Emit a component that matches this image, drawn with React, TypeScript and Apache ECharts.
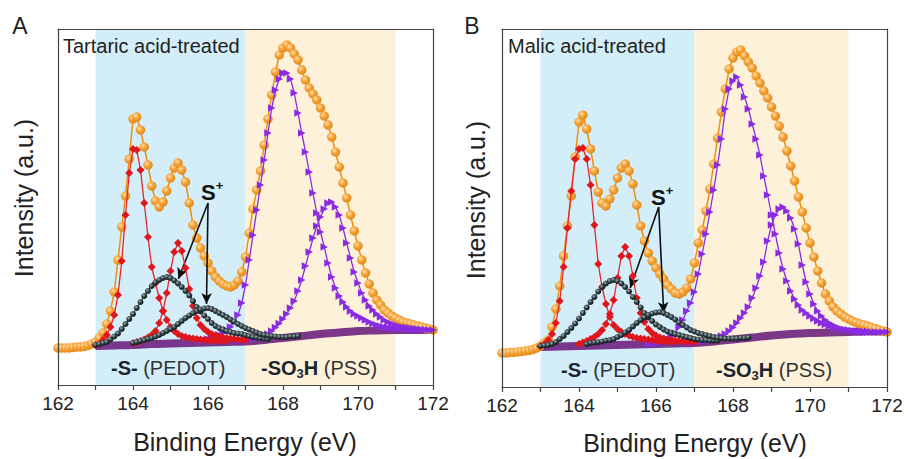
import React, { useEffect, useRef } from 'react';
import * as echarts from 'echarts';

const F = '"Liberation Sans", Arial, Helvetica, sans-serif';

// ---------- axis / regions ----------
const X_MIN = 162;
const X_MAX = 172;
const TICK_LABELS = [162, 164, 166, 168, 170, 172];
const REGION_PEDOT = [163, 167];
const REGION_PSS = [167, 171];
const PANEL_TITLES = ['Tartaric acid-treated', 'Malic acid-treated'];
const PANEL_LETTERS = ['A', 'B'];

// sample grid step (eV) of the measured / fitted curves
const STEP = 0.1;

// ---------- Panel A (tartaric acid) : intensity values, a.u. ----------
// envelope, 162.0 .. 172.0
const A_TOTAL = [37, 37, 37, 37, 37.5, 38, 38, 38.5, 39.5, 41,
  43, 47, 52, 61, 74, 93, 125, 158, 189, 226,
  266, 268, 255, 238, 220, 199, 184, 178, 183, 194,
  207, 217, 222, 215, 203, 182, 160, 147, 137, 129,
  122, 114, 108, 104, 101, 99, 98, 100, 104, 113,
  128, 152, 176, 195, 214, 240, 266, 290, 313, 330,
  337, 340, 337, 331, 325, 315, 305, 297, 291, 285,
  277, 269, 260, 248, 233, 218, 202, 187, 170, 154,
  139, 125, 112, 101, 92, 85, 80, 75, 72, 69,
  67, 65, 63, 62, 61, 60, 59, 58, 57, 56,
  55];
// -S- 2p3/2 from 163.0
const A_S1 = [40, 41, 45, 50, 58, 70, 90, 124, 170, 212,
  236, 235, 215, 182, 148, 118, 102, 87, 74, 65,
  58, 54, 51, 49, 48, 47, 46.5, 46, 45.5, 45,
  45, 44.5, 44.5, 44.5, 44.5, 44.5];
// -S- 2p1/2 from 164.0
const A_S2 = [42, 43, 44, 45.5, 47.5, 50, 54, 62, 74, 92,
  114, 133, 142, 134, 117, 96, 79, 67, 60, 56,
  53, 51, 49.5, 48.5, 47.5, 47, 46.5, 46, 45.5, 45,
  45];
// S+ 2p3/2 from 163.0
const A_SP1 = [40, 41, 42, 43, 45.5, 48.5, 51.5, 56, 61, 66,
  71, 77, 83, 89, 94, 99, 102.5, 105, 107, 108,
  107, 104.5, 101.5, 98, 94, 89.5, 84, 78, 73.5, 69.5,
  66, 62, 59, 57, 55.5, 54, 53, 52, 51.5, 51,
  50, 49, 48, 47.5, 47, 46.5, 46];
// S+ 2p1/2 from 164.0
const A_SP2 = [42, 43, 44, 45, 46, 47, 48.5, 50, 52, 54,
  56, 58, 61, 64, 67, 69.5, 72, 74, 75.5, 76.5,
  77, 76, 74, 72, 70, 68, 65.5, 63.5, 61, 59,
  57, 55.5, 54, 52.5, 51, 50, 49.5, 49, 48.5, 48,
  48, 48, 48.5, 48.5, 49];
// SO3H 2p3/2 from 165.8
const A_SO1 = [44, 45,
  46, 47, 48.5, 50, 52, 55, 58, 63, 70, 82,
  100, 125, 150, 175, 200, 225, 252, 277, 295, 306,
  312, 312, 306, 292, 272, 252, 233, 213, 192, 172,
  153, 138, 122, 108, 97, 89, 83, 78, 74, 71,
  69, 67, 65, 63, 61.5, 60, 59, 58, 57.5, 57,
  56.5, 56, 56, 55.5, 55.5, 55];
// SO3H 2p1/2 from 166.8
const A_SO2 = [44, 44.5,
  45, 45.5, 46, 47, 48, 49.5, 51, 54, 57.5, 61.5,
  66, 71, 77, 84, 94, 105, 119, 133, 147, 159,
  168, 176, 182, 183, 178, 170, 157, 142, 127, 113,
  102, 92, 85, 79, 75, 71, 68, 65, 63, 61.5,
  60, 59, 58, 57.5, 57, 56.5, 56, 55.5, 55.5, 55,
  55];

// ---------- Panel B (malic acid) ----------
const B_TOTAL = [34, 34, 34.5, 34.5, 35, 35.5, 36, 36.5, 37.5, 39,
  41, 44, 47, 60, 78, 101, 131, 161, 191, 230,
  265, 272, 258, 238, 216, 195, 184, 181, 188, 197,
  209, 219, 223, 216, 203, 182, 161, 146, 134, 126,
  119, 113, 108, 102, 98, 94, 93, 95, 99, 108,
  124, 144, 157, 176, 198, 223, 249, 275, 298, 318,
  329, 335, 337, 331, 325, 319, 311, 304, 296, 289,
  280, 271, 261, 250, 236, 221, 206, 190, 175, 159,
  144, 130, 116, 104, 93, 86, 80, 76, 73, 70,
  68, 66, 64.5, 63, 62, 61, 59.5, 58.5, 57, 56,
  55];
const B_S1 = [41, 43, 47, 53, 64, 86, 120, 159, 196, 228,
  238, 239, 228, 202, 162, 123, 100, 83, 70, 62,
  58, 55, 53, 51.5, 50, 49, 48.5, 48, 47.5, 47,
  46.5, 46, 46, 45.5, 45.5, 45.5];
const B_S2 = [43, 44.5, 46, 48, 50, 53, 57, 63, 73, 87,
  109, 131, 140, 131, 111, 89, 74, 65, 58, 54,
  51.5, 49.5, 48.5, 47.5, 47, 46.5, 46, 45.5, 45.5, 45,
  45];
const B_SP1 = [41, 41.5, 42, 43, 45, 48, 51, 55, 59, 63.5,
  68.5, 74, 79.5, 85, 90, 95.5, 100, 103.5, 106, 107,
  106, 103.5, 100, 95.5, 90, 85, 79.5, 74, 69.5, 66,
  62.5, 60, 57.5, 55.5, 54, 53, 52, 51, 50, 49,
  48, 47.5, 47, 47, 46.5, 46.5, 46.5];
// from 164.2
const B_SP2 = [43, 44, 44.5, 45, 45.5, 46.5, 47, 48,
  50, 52, 54.5, 57, 60.5, 64, 67, 69.5, 72, 73.5,
  74.5, 75, 74, 72, 70, 67.5, 64.5, 62, 59.5, 57,
  55.5, 54, 53, 52, 51, 50, 49.5, 49, 48.5, 48.5,
  48.5, 48.5, 49, 49, 49.5];
const B_SO1 = [43, 43.5,
  44, 44.5, 46, 48, 50.5, 54, 60, 67, 76, 84,
  95, 113, 133, 153, 175, 197, 222, 248, 278, 298,
  306, 310, 302, 290, 278, 263, 248, 232, 211, 192,
  172, 153, 134, 118, 106, 96, 88, 82, 77, 74,
  71, 68.5, 66, 64, 62.5, 61, 60, 59, 58, 57.5,
  57, 56.5, 56, 56, 55.5, 55.5];
const B_SO2 = [44, 44.5,
  45, 45.5, 46, 46.5, 47.5, 48.5, 49.5, 51, 53, 56,
  59.5, 64, 69, 74, 80, 89, 99, 111, 125, 146,
  162, 172, 178, 180, 176, 169, 158, 143, 122, 105,
  93, 83, 76, 71, 67, 64, 62, 60, 58.5, 57.5,
  57, 56, 55.5, 55.5, 55, 55, 55, 55, 55, 55,
  55];

// Shirley-type background
const BASE_E = [163, 163.5, 164, 164.5, 165, 165.5, 166, 166.5, 167, 167.5, 168, 168.5, 169, 169.5, 170, 170.5, 171, 171.5, 172];
const A_BASE = [39, 39.5, 40, 41, 41.5, 42, 42.5, 43, 43.5, 45, 47, 49, 51, 52.5, 54, 54.5, 55, 55, 55.5];
const B_BASE = [40, 40.5, 41, 41.5, 42, 42.5, 43, 43.5, 44, 45.5, 47.5, 49.5, 51.5, 53, 54, 54.5, 55, 55.5, 55.5];

// arrows "S+" : [from(E, I), to(E, I)]
const A_ARROWS = [[[166.0, 182], [165.21, 106]], [[166.0, 182], [165.96, 81]]];
const B_ARROWS = [[[166.07, 180], [165.33, 99]], [[166.07, 180], [166.2, 74]]];

const pts = (start: number, vals: number[]) =>
  vals.map((v, i) => [Math.round((start + i * STEP) * 100) / 100, v]);

const panels = [
  {
    grid: { left: 58, top: 29, width: 375, height: 356 }, yMax: 356,
    total: pts(162, A_TOTAL), s1: pts(163, A_S1), s2: pts(164, A_S2),
    sp1: pts(163, A_SP1), sp2: pts(164, A_SP2), so1: pts(165.8, A_SO1), so2: pts(166.8, A_SO2),
    base: BASE_E.map((e, i) => [e, A_BASE[i]]), arrows: A_ARROWS,
  },
  {
    grid: { left: 502, top: 29, width: 385, height: 358 }, yMax: 358,
    total: pts(162, B_TOTAL), s1: pts(163, B_S1), s2: pts(164, B_S2),
    sp1: pts(163, B_SP1), sp2: pts(164.2, B_SP2), so1: pts(165.8, B_SO1), so2: pts(166.8, B_SO2),
    base: BASE_E.map((e, i) => [e, B_BASE[i]]), arrows: B_ARROWS,
  },
];

function buildOption() {
  const orangeBall = new echarts.graphic.RadialGradient(0.38, 0.35, 0.7, [
    { offset: 0, color: '#ffe2a6' },
    { offset: 0.45, color: '#f5a23a' },
    { offset: 1, color: '#dc860f' },
  ]);
  const blackBall = new echarts.graphic.RadialGradient(0.38, 0.35, 0.7, [
    { offset: 0, color: '#9fb0b5' },
    { offset: 0.5, color: '#2c3b40' },
    { offset: 1, color: '#0b1114' },
  ]);

  const grids: any[] = [];
  const xAxes: any[] = [];
  const yAxes: any[] = [];
  const series: any[] = [];

  panels.forEach((p, k) => {
    grids.push({ ...p.grid, containLabel: false });
    const common = { type: 'value', min: X_MIN, max: X_MAX, interval: 1, gridIndex: k, z: 10, splitLine: { show: false } };
    xAxes.push({
      ...common, position: 'bottom',
      axisLine: { show: true, onZero: false, lineStyle: { color: '#444', width: 1.2 } },
      axisTick: { show: true, inside: false, length: 5, lineStyle: { color: '#444', width: 1.2 } },
      axisLabel: {
        show: true, margin: 9, fontSize: 19, fontFamily: F, color: '#222',
        formatter: (v: number) => (TICK_LABELS.includes(v) ? String(v) : ''),
      },
    });
    xAxes.push({
      ...common, position: 'top',
      axisLine: { show: true, onZero: false, lineStyle: { color: '#444', width: 1.2 } },
      axisTick: { show: false }, axisLabel: { show: false },
    });
    const yc = { type: 'value', min: 0, max: p.yMax, gridIndex: k, z: 10, splitLine: { show: false }, axisTick: { show: false }, axisLabel: { show: false } };
    yAxes.push({ ...yc, position: 'left', axisLine: { show: true, onZero: false, lineStyle: { color: '#444', width: 1.2 } } });
    yAxes.push({ ...yc, position: 'right', axisLine: { show: true, onZero: false, lineStyle: { color: '#444', width: 1.2 } } });

    const xi = k * 2;
    const yi = k * 2;
    const base = { type: 'line', xAxisIndex: xi, yAxisIndex: yi, animation: false, showAllSymbol: true, silent: true };

    // shaded regions
    series.push({
      ...base, name: 'regions' + k, data: [], z: 1,
      markArea: {
        silent: true,
        data: [
          [{ xAxis: REGION_PEDOT[0], itemStyle: { color: '#d3eef9' } }, { xAxis: REGION_PEDOT[1] }],
          [{ xAxis: REGION_PSS[0], itemStyle: { color: '#fdf2d9' } }, { xAxis: REGION_PSS[1] }],
        ],
      },
    });
    // background
    series.push({
      ...base, name: 'Background', data: p.base, z: 2, showSymbol: false, smooth: 0.3,
      lineStyle: { color: '#6b1d7c', width: 8, opacity: 0.88 },
    });
    // envelope
    series.push({
      ...base, name: 'Envelope', data: p.total, z: 3, symbol: 'circle', symbolSize: 9.5,
      itemStyle: { color: orangeBall }, lineStyle: { color: '#f08c10', width: 1.5 },
    });
    // PSS components
    [p.so1, p.so2].forEach((d, j) => {
      series.push({
        ...base, name: 'SO3H ' + j, data: d, z: 4, symbol: 'triangle', symbolSize: 7.5, symbolRotate: -90,
        itemStyle: { color: '#8a2be2' }, lineStyle: { color: '#8a2be2', width: 1.3 },
      });
    });
    // -S- components
    [p.s1, p.s2].forEach((d, j) => {
      series.push({
        ...base, name: 'S ' + j, data: d, z: 5, symbol: 'diamond', symbolSize: 8,
        itemStyle: { color: '#e0161d' }, lineStyle: { color: '#e6262b', width: 1.3 },
      });
    });
    // S+ components
    [p.sp1, p.sp2].forEach((d, j) => {
      series.push({
        ...base, name: 'S+ ' + j, data: d, z: 6, symbol: 'circle', symbolSize: 6,
        itemStyle: { color: blackBall }, lineStyle: { color: '#111', width: 1 },
        markLine: j === 0 ? {
          silent: true, animation: false, symbol: ['none', 'arrow'], symbolSize: [8, 11],
          label: { show: false },
          lineStyle: { color: '#111', width: 1.6, type: 'solid' },
          data: p.arrows.map((a) => [{ coord: a[0] }, { coord: a[1] }]),
        } : undefined,
      });
    });
  });

  const txt = (x: number, y: number, text: string, size: number, extra: any = {}) => ({
    type: 'text', x, y, z: 100, silent: true,
    style: {
      text, font: `${size}px ${F}`, fontSize: size, fontFamily: F, fill: '#222',
      align: 'left', verticalAlign: 'middle', textAlign: 'left', textVerticalAlign: 'middle', ...extra,
    },
  });
  const center = { align: 'center', textAlign: 'center' };

  const richLabel = (x: number, y: number, text: string, rich: any) => ({
    type: 'text', x, y, z: 100, silent: true,
    style: {
      text, rich, fontSize: 20, fontFamily: F, fill: '#333',
      align: 'left', verticalAlign: 'middle', textAlign: 'left', textVerticalAlign: 'middle',
    },
  });
  const pedotRich = {
    b: { fontSize: 20, fontWeight: 'bold', fontFamily: F, fill: '#1b2530', color: '#1b2530', lineHeight: 24, verticalAlign: 'middle' },
    n: { fontSize: 20, fontFamily: F, fill: '#333', color: '#333', lineHeight: 24, verticalAlign: 'middle' },
    s: { fontSize: 13, fontWeight: 'bold', fontFamily: F, fill: '#1b2530', color: '#1b2530', verticalAlign: 'bottom' },
  };
  const splusRich = {
    s: { fontSize: 22, fontWeight: 'bold', fontFamily: F, fill: '#111', color: '#111', lineHeight: 26, verticalAlign: 'middle' },
    p: { fontSize: 13, fontWeight: 'bold', fontFamily: F, fill: '#111', color: '#111', verticalAlign: 'top' },
  };

  const graphic: any[] = [
    txt(20, 26, PANEL_LETTERS[0], 23, center),
    txt(472, 26, PANEL_LETTERS[1], 23, center),
    txt(63, 46, PANEL_TITLES[0], 20),
    txt(508, 46, PANEL_TITLES[1], 20),
    { ...txt(24, 198, 'Intensity (a.u.)', 25, center), rotation: Math.PI / 2 },
    { ...txt(476, 200, 'Intensity (a.u.)', 25, center), rotation: Math.PI / 2 },
    txt(245, 442, 'Binding Energy (eV)', 25, center),
    txt(695, 443, 'Binding Energy (eV)', 25, center),
    richLabel(111, 368, '{b|-S-} {n|(PEDOT)}', pedotRich),
    richLabel(561, 370, '{b|-S-} {n|(PEDOT)}', pedotRich),
    richLabel(261, 368, '{b|-SO}{s|3}{b|H} {n|(PSS)}', pedotRich),
    richLabel(716, 370, '{b|-SO}{s|3}{b|H} {n|(PSS)}', pedotRich),
    richLabel(201, 192, '{s|S}{p|+}', splusRich),
    richLabel(651, 197, '{s|S}{p|+}', splusRich),
  ];

  return {
    animation: false,
    backgroundColor: '#ffffff',
    grid: grids,
    xAxis: xAxes,
    yAxis: yAxes,
    series,
    graphic,
  };
}

export default function App() {
  const ref = useRef<HTMLDivElement>(null);
  useEffect(() => {
    if (!ref.current) return;
    const chart = echarts.init(ref.current, null, { renderer: 'svg' });
    chart.setOption(buildOption() as any);
    return () => chart.dispose();
  }, []);
  return (
    <div
      ref={ref}
      style={{ position: 'absolute', left: 0, top: 0, width: 908, height: 459 }}
    />
  );
}
